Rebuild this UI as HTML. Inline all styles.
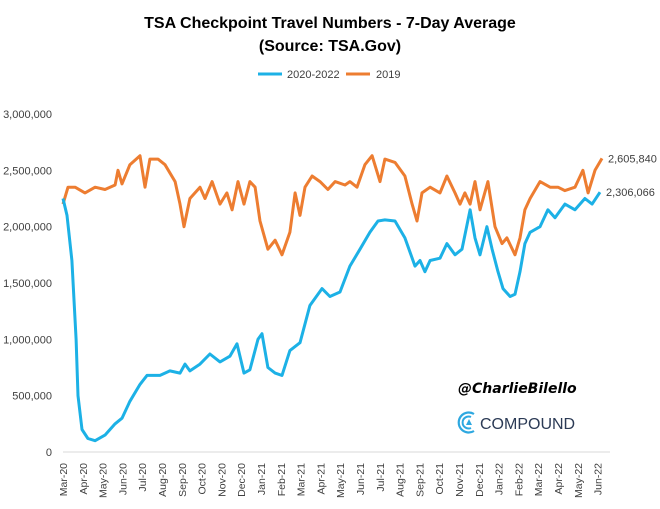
<!DOCTYPE html>
<html><head><meta charset="utf-8"><style>
body{margin:0;background:#fff;}
svg{display:block;font-family:"Liberation Sans",sans-serif;}
</style></head><body>
<svg id="chart" width="660" height="509">
<text x="330" y="28" text-anchor="middle" font-size="16" font-weight="bold" fill="#000">TSA Checkpoint Travel Numbers - 7-Day Average</text>
<text x="330" y="51" text-anchor="middle" font-size="16" font-weight="bold" fill="#000">(Source: TSA.Gov)</text>
<g>
<line x1="258" y1="74" x2="282" y2="74" stroke="#1cb1e6" stroke-width="3"/>
<text x="287" y="78" font-size="11" fill="#404040">2020-2022</text>
<line x1="346" y1="74" x2="370" y2="74" stroke="#ed7d31" stroke-width="3"/>
<text x="376" y="78" font-size="11" fill="#404040">2019</text>
</g>
<g id="yaxis"></g>
<g id="xaxis"></g>
<g id="series"></g>
<text x="458" y="393" font-family="'DejaVu Sans',sans-serif" font-style="italic" font-weight="bold" font-size="14" fill="#000">@CharlieBilello</text>
<g>
<path d="M474 414 A10 10 0 1 0 474 431" fill="none" stroke="#2ea8e0" stroke-width="2.2"/>
<path d="M471 417 A6 6 0 1 0 471 428" fill="none" stroke="#2ea8e0" stroke-width="2"/>
<polygon points="466,425 469,419 472,425" fill="#2ea8e0"/>
<text x="480" y="429" font-size="16" fill="#2b3a55">COMPOUND</text>
</g>
</svg>
<script>
const months=["Mar-20","Apr-20","May-20","Jun-20","Jul-20","Aug-20","Sep-20","Oct-20","Nov-20","Dec-20","Jan-21","Feb-21","Mar-21","Apr-21","May-21","Jun-21","Jul-21","Aug-21","Sep-21","Oct-21","Nov-21","Dec-21","Jan-22","Feb-22","Mar-22","Apr-22","May-22","Jun-22"];
const yTicks=[0,500000,1000000,1500000,2000000,2500000,3000000];
const blueT=[0,0.2,0.45,0.66,0.76,0.96,1.26,1.62,2.12,2.63,2.98,3.38,3.89,4.24,4.9,5.4,5.91,6.16,6.41,6.92,7.42,7.93,8.43,8.79,9.14,9.44,9.85,10.05,10.35,10.71,11.06,11.46,11.97,12.47,13.08,13.48,13.99,14.49,15.0,15.5,15.91,16.26,16.77,17.27,17.78,18.03,18.28,18.54,19.04,19.39,19.8,20.15,20.56,20.81,21.06,21.41,21.67,21.97,22.22,22.58,22.83,23.08,23.33,23.59,24.09,24.49,24.85,25.35,25.86,26.36,26.72,27.12];
const blueV=[2250000,2100000,1700000,1000000,500000,200000,120000,100000,150000,250000,300000,450000,600000,680000,680000,720000,700000,780000,720000,780000,870000,800000,850000,960000,700000,730000,1000000,1050000,750000,700000,680000,900000,970000,1300000,1450000,1380000,1420000,1650000,1800000,1950000,2050000,2060000,2050000,1900000,1650000,1700000,1600000,1700000,1720000,1850000,1750000,1800000,2150000,1900000,1750000,2000000,1800000,1600000,1450000,1380000,1400000,1600000,1850000,1950000,2000000,2150000,2080000,2200000,2150000,2250000,2200000,2306066];
const orangeT=[0,0.25,0.61,1.11,1.62,2.12,2.63,2.78,2.98,3.38,3.89,4.14,4.39,4.8,5.15,5.66,5.91,6.11,6.41,6.92,7.17,7.53,7.93,8.28,8.54,8.84,9.14,9.44,9.7,9.95,10.35,10.71,11.06,11.46,11.72,11.97,12.22,12.58,12.98,13.38,13.74,14.24,14.49,14.85,15.25,15.61,16.01,16.26,16.77,17.27,17.63,17.88,18.13,18.54,19.04,19.39,19.8,20.05,20.3,20.56,20.81,21.06,21.46,21.82,22.17,22.42,22.83,23.08,23.33,23.59,24.09,24.6,25.0,25.35,25.86,26.26,26.52,26.87,27.22];
const orangeV=[2200000,2350000,2350000,2300000,2350000,2330000,2370000,2500000,2380000,2550000,2630000,2350000,2600000,2600000,2550000,2400000,2200000,2000000,2250000,2350000,2250000,2400000,2200000,2300000,2150000,2400000,2200000,2400000,2350000,2050000,1800000,1880000,1750000,1950000,2300000,2100000,2350000,2450000,2400000,2330000,2400000,2370000,2400000,2350000,2550000,2630000,2400000,2600000,2570000,2450000,2200000,2050000,2300000,2350000,2300000,2450000,2300000,2200000,2300000,2200000,2400000,2150000,2400000,2000000,1850000,1900000,1750000,1900000,2150000,2250000,2400000,2350000,2350000,2320000,2350000,2500000,2300000,2500000,2605840];
const NS="http://www.w3.org/2000/svg";
const x0=63,pxPerMonth=19.8,y0=452,yTop=114,yMax=3000000;
const xs=m=>x0+m*pxPerMonth;
const ys=v=>y0-(v/yMax)*(y0-yTop);
function mk(tag,attrs,parent){const e=document.createElementNS(NS,tag);for(const k in attrs)e.setAttribute(k,attrs[k]);parent.appendChild(e);return e;}
const ya=document.getElementById('yaxis'),xa=document.getElementById('xaxis'),sg=document.getElementById('series');
yTicks.forEach(v=>{const t=mk('text',{x:52,y:ys(v)+4,'text-anchor':'end','font-size':11,fill:'#404040'},ya);t.textContent=v.toLocaleString('en-US');

});
const base=mk('line',{x1:x0,y1:y0,x2:610,y2:y0,stroke:'#d9d9d9','stroke-width':1},xa);


months.forEach((m,i)=>{const x=xs(i)+4;const t=mk('text',{x:x,y:463,transform:`rotate(-90 ${x} 463)`,'text-anchor':'end','font-size':10.5,fill:'#404040'},xa);t.textContent=m;

});
function line(T,V,color,name,label){const d=T.map((t,i)=>(i?'L':'M')+xs(t).toFixed(1)+' '+ys(V[i]).toFixed(1)).join(' ');
const p=mk('path',{d:d,fill:'none',stroke:color,'stroke-width':3,'stroke-linejoin':'round'},sg);


const n=T.length-1;const t=mk('text',{x:xs(T[n])+6,y:ys(V[n])+4,'font-size':11,fill:'#404040'},sg);t.textContent=V[n].toLocaleString('en-US');

}
line(orangeT,orangeV,'#ed7d31','line-2019','end-label-2019');
line(blueT,blueV,'#1cb1e6','line-2020-2022','end-label-2020-2022');
</script>
</body></html>
